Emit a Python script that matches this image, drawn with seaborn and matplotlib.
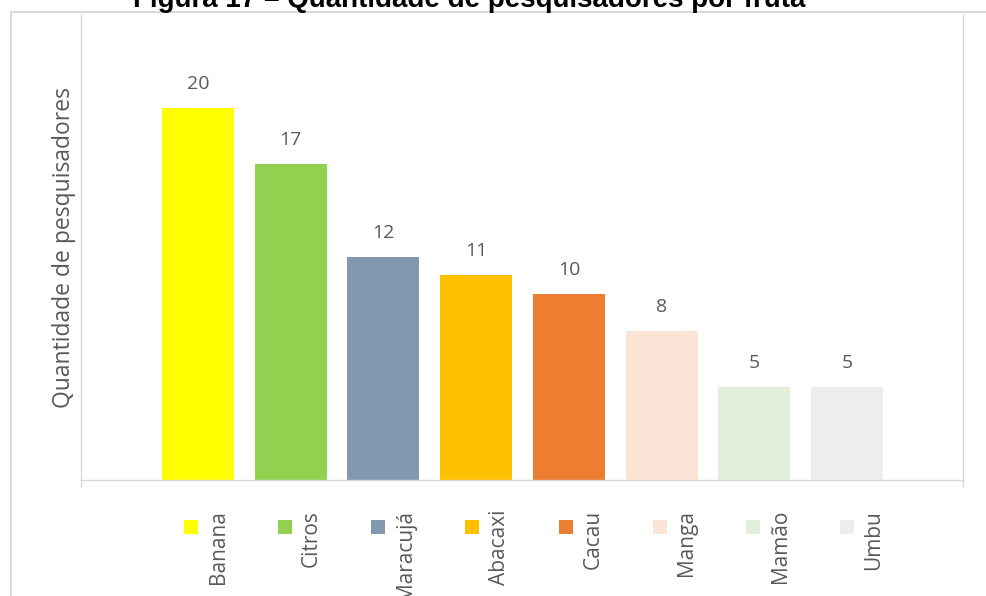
import matplotlib
matplotlib.use("Agg")
import matplotlib.pyplot as plt
import seaborn as sns
import pandas as pd
from matplotlib.patches import Rectangle
from matplotlib.lines import Line2D

frutas = ["Banana", "Citros", "Maracujá", "Abacaxi", "Cacau", "Manga", "Mamão", "Umbu"]
pesquisadores = [20, 17, 12, 11, 10, 8, 5, 5]
cores = ["#FFFF00", "#92D050", "#8497B0", "#FFC000", "#ED7D31", "#FBE5D6", "#E2EFDA", "#EDEDED"]

titulo = "Figura 17 – Quantidade de pesquisadores por fruta"
rotulo_y = "Quantidade de pesquisadores"

sns.set_theme(style="white")
plt.rcParams["font.family"] = ["Open Sans", "DejaVu Sans"]

W, H = 986, 596
fig = plt.figure(figsize=(W / 100, H / 100), dpi=100)
fig.patch.set_facecolor("white")

grid_col = "#D9D9D9"
text_col = "#595959"

# plot area in pixel coordinates
left, right, top, bottom = 81, 963, 15, 480
ax = fig.add_axes([left / W, (H - bottom) / H, (right - left) / W, (bottom - top) / H])

df = pd.DataFrame({"fruta": frutas, "n": pesquisadores})
sns.barplot(data=df, x="fruta", y="n", hue="fruta", palette=cores,
            width=0.777, saturation=1, legend=False, ax=ax, edgecolor="none")

ax.set_xlim(-1.262, 8.25)
ax.set_ylim(0, 25)

for i, v in enumerate(pesquisadores):
    ax.annotate(str(v), (i, v), xytext=(0, 13.7), textcoords="offset points",
                ha="center", va="baseline", fontsize=14, color=text_col)

ax.set_xlabel("")
ax.set_ylabel(rotulo_y, fontsize=16.5, color=text_col, va="center")
ax.yaxis.set_label_coords((64 - left) / (right - left), 0.5)
ax.set_yticks([])
ax.set_xticks([-1.262, 8.25])
ax.set_xticklabels(["", ""])
ax.tick_params(axis="x", length=5, width=1, color=grid_col, direction="out", bottom=True)
for side in ["left", "right", "bottom"]:
    ax.spines[side].set_visible(True)
    ax.spines[side].set_color(grid_col)
    ax.spines[side].set_linewidth(1)
ax.spines["top"].set_visible(False)

# legend: colour squares with vertical labels under the axis
sq = 14
for i, (nome, cor) in enumerate(zip(frutas, cores)):
    cx = 191 + 93.7 * i
    cy = 527
    fig.patches.append(Rectangle(((cx - sq / 2) / W, (H - cy - sq / 2) / H), sq / W, sq / H,
                                 transform=fig.transFigure, facecolor=cor, edgecolor="none"))
    fig.text((cx + 27) / W, (H - 510) / H, nome, rotation=90, ha="center", va="top",
             fontsize=15, color=text_col)

# outer chart border
fig.lines.append(Line2D([11 / W, 11 / W, 1.01], [-0.01, (H - 12) / H, (H - 12) / H],
                        transform=fig.transFigure, color=grid_col, linewidth=1.5))

fig.text(469 / W, (H - 7) / H, titulo, ha="center", va="baseline", fontsize=20,
         fontweight="bold", color="black", family=["Liberation Sans", "DejaVu Sans"])

fig.savefig("out.png", dpi=100)
